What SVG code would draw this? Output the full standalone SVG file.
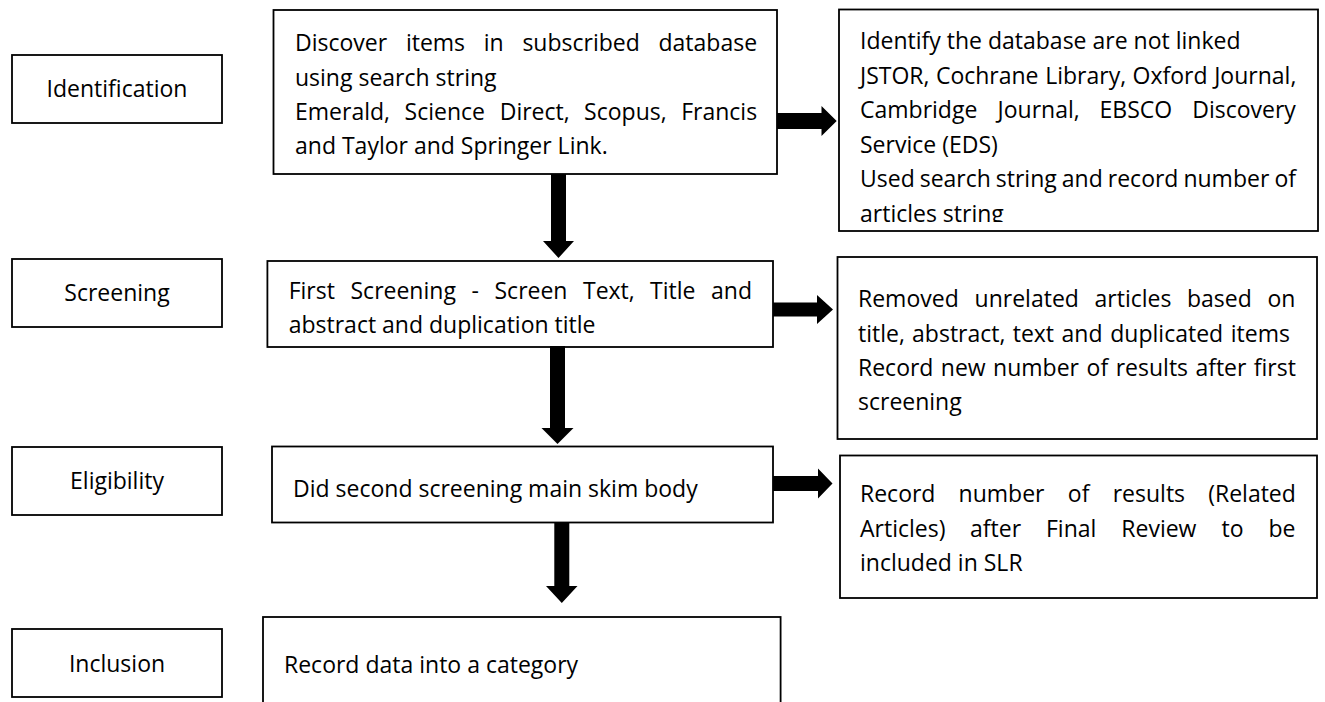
<svg xmlns="http://www.w3.org/2000/svg" width="1325" height="702" viewBox="0 0 1325 702">
<defs>
<style>
.box{fill:#fff;stroke:#000;stroke-width:1.8}
.t{font-family:"Open Sans","Noto Sans",sans-serif;font-size:23px;fill:#000}
.c{text-anchor:middle}
.arr{fill:#000}
</style>
<clipPath id="clip2"><rect x="840" y="11" width="476" height="211"/></clipPath>
</defs>
<rect width="1325" height="702" fill="#fff"/>

<g id="stage-identification">
<rect class="box" x="12" y="55" width="210" height="68"/>
<text class="t c" x="117" y="97">Identification</text>
</g>
<g id="stage-screening">
<rect class="box" x="12" y="259" width="210" height="68"/>
<text class="t c" x="117" y="301">Screening</text>
</g>
<g id="stage-eligibility">
<rect class="box" x="12" y="447" width="210" height="68"/>
<text class="t c" x="117" y="489">Eligibility</text>
</g>
<g id="stage-inclusion">
<rect class="box" x="12" y="629" width="210" height="68"/>
<text class="t c" x="117" y="672">Inclusion</text>
</g>

<g id="discover">
<rect class="box" x="273.5" y="10" width="503.5" height="164"/>
<text class="t" y="51"><tspan x="295">Discover</tspan><tspan x="405.9">items</tspan><tspan x="483.8">in</tspan><tspan x="522.4">subscribed</tspan><tspan x="658.5">database</tspan></text>
<text class="t" x="295" y="86">using search string</text>
<text class="t" y="120"><tspan x="295">Emerald,</tspan><tspan x="404.6">Science</tspan><tspan x="499.7">Direct,</tspan><tspan x="584.1">Scopus,</tspan><tspan x="681.2">Francis</tspan></text>
<text class="t" x="295" y="154">and Taylor and Springer Link.</text>
</g>

<g id="identify-db">
<rect class="box" x="839" y="9.5" width="479" height="221.5"/>
<g clip-path="url(#clip2)">
<text class="t" x="860" y="49">Identify the database are not linked</text>
<text class="t" y="84"><tspan x="860">JSTOR,</tspan><tspan x="935.9">Cochrane</tspan><tspan x="1045.2">Library,</tspan><tspan x="1132.5">Oxford</tspan><tspan x="1214.2">Journal,</tspan></text>
<text class="t" y="118"><tspan x="860">Cambridge</tspan><tspan x="997.6">Journal,</tspan><tspan x="1099.5">EBSCO</tspan><tspan x="1192.2">Discovery</tspan></text>
<text class="t" x="860" y="152.5">Service (EDS)</text>
<text class="t" y="187"><tspan x="860">Used</tspan><tspan x="919.7">search</tspan><tspan x="995.8">string</tspan><tspan x="1061.8">and</tspan><tspan x="1107.8">record</tspan><tspan x="1183.4">number</tspan><tspan x="1274.4">of</tspan></text>
<text class="t" x="860" y="221.5">articles string</text>
</g>
</g>

<g id="first-screening">
<rect class="box" x="267.4" y="261" width="505.6" height="86"/>
<text class="t" y="298.5"><tspan x="288.7">First</tspan><tspan x="350.5">Screening</tspan><tspan x="471.5">-</tspan><tspan x="494.5">Screen</tspan><tspan x="583">Text,</tspan><tspan x="650">Title</tspan><tspan x="711">and</tspan></text>
<text class="t" x="288.7" y="333">abstract and duplication title</text>
</g>

<g id="removed-unrelated">
<rect class="box" x="837.5" y="257" width="479.5" height="182"/>
<text class="t" y="307"><tspan x="858">Removed</tspan><tspan x="974.6">unrelated</tspan><tspan x="1094.5">articles</tspan><tspan x="1187">based</tspan><tspan x="1267.5">on</tspan></text>
<text class="t" y="341.5"><tspan x="858">title,</tspan><tspan x="912.1">abstract,</tspan><tspan x="1012.7">text</tspan><tspan x="1061.6">and</tspan><tspan x="1110.3">duplicated</tspan><tspan x="1230.8">items</tspan></text>
<text class="t" y="376"><tspan x="858">Record</tspan><tspan x="940.8">new</tspan><tspan x="993.1">number</tspan><tspan x="1086.6">of</tspan><tspan x="1115.7">results</tspan><tspan x="1195.4">after</tspan><tspan x="1253.8">first</tspan></text>
<text class="t" x="858" y="410">screening</text>
</g>

<g id="second-screening">
<rect class="box" x="272" y="446.5" width="501" height="76"/>
<text class="t" x="293" y="497">Did second screening main skim body</text>
</g>

<g id="record-results">
<rect class="box" x="840" y="455.5" width="477" height="142.5"/>
<text class="t" y="502"><tspan x="860">Record</tspan><tspan x="958.6">number</tspan><tspan x="1067.8">of</tspan><tspan x="1112.7">results</tspan><tspan x="1208.2">(Related</tspan></text>
<text class="t" y="537"><tspan x="860">Articles)</tspan><tspan x="970">after</tspan><tspan x="1046">Final</tspan><tspan x="1121.3">Review</tspan><tspan x="1221.6">to</tspan><tspan x="1268.5">be</tspan></text>
<text class="t" x="860" y="571">included in SLR</text>
</g>

<g id="record-data">
<rect class="box" x="263" y="617" width="517.6" height="100"/>
<text class="t" x="284" y="672.5">Record data into a category</text>
</g>

<g id="connectors">
<polygon class="arr" points="551,174 566,174 566,241 574,241 558.5,258 543,241 551,241"/>
<polygon class="arr" points="550,346 565,346 565,428 573.5,428 557.5,444 541.5,428 550,428"/>
<polygon class="arr" points="554.3,522 569.3,522 569.3,586 577.5,586 561.8,603 546,586 554.3,586"/>
<polygon class="arr" points="777,113 821.5,113 821.5,106 836.7,121 821.5,136 821.5,129 777,129"/>
<polygon class="arr" points="773,302.5 817,302.5 817,295 833,309.5 817,324 817,316.5 773,316.5"/>
<polygon class="arr" points="773,476 818,476 818,468.5 832.5,483.5 818,498.5 818,491 773,491"/>
</g>
</svg>
